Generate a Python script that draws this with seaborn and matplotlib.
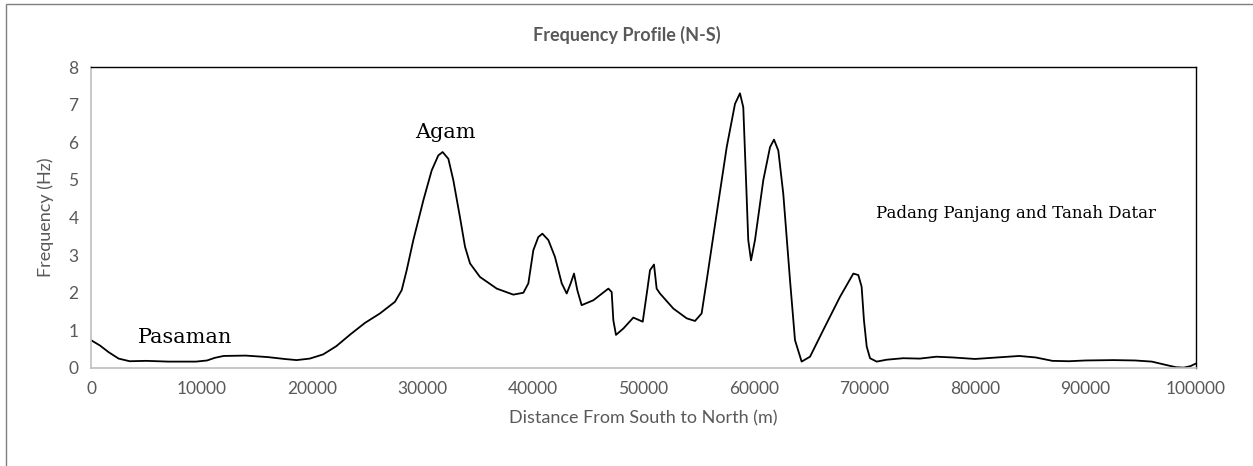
import matplotlib
matplotlib.use("Agg")
import matplotlib.pyplot as plt
import seaborn as sns
import pandas as pd
from matplotlib.patches import Rectangle

# ---- data ----
distance_m = [0, 800, 1600, 2500, 3500, 5000, 7000, 9500, 10500, 11200, 12000,
              14000, 16000, 17500, 18600, 19800, 21000, 22200, 23500, 24800, 26150,
              27510, 28120, 28570, 29170, 30080, 30830, 31430, 31820, 32340, 32790,
              33390, 33850, 34300, 35200, 36720, 38220, 39130, 39580, 40030, 40480,
              40850, 41390, 41990, 42600, 43050, 43410, 43710, 44010, 44400, 45460,
              46820, 47120, 47270, 47510, 48180, 49080, 49930, 50340, 50590, 50950,
              51190, 51490, 52700, 53910, 54660, 55260, 55720, 56620, 57530, 58280,
              58730, 59030, 59280, 59480, 59730, 60090, 60840, 61450, 61810, 62200,
              62650, 63260, 63710, 64310, 65070, 66270, 67780, 68990, 69440, 69740,
              69950, 70200, 70500, 71100, 72000, 73500, 75000, 76500, 78000, 80000,
              82000, 84000, 85500, 87000, 88500, 90000, 92500, 94500, 96000, 97300,
              98200, 98900, 99500, 100000]
frequency_hz = [0.74, 0.6, 0.42, 0.25, 0.18, 0.19, 0.17, 0.17, 0.2, 0.27, 0.32,
                0.33, 0.29, 0.24, 0.21, 0.25, 0.36, 0.58, 0.9, 1.2, 1.45,
                1.76, 2.07, 2.6, 3.4, 4.46, 5.25, 5.65, 5.74, 5.56, 4.99,
                4.01, 3.22, 2.78, 2.42, 2.11, 1.95, 2.0, 2.25, 3.13, 3.48,
                3.57, 3.4, 2.95, 2.25, 1.98, 2.25, 2.51, 2.07, 1.67, 1.8,
                2.11, 2.02, 1.27, 0.88, 1.05, 1.34, 1.23, 2.07, 2.6, 2.75,
                2.11, 1.98, 1.58, 1.32, 1.25, 1.45, 2.33, 4.1, 5.87, 7.02,
                7.3, 6.93, 4.99, 3.4, 2.86, 3.4, 4.99, 5.87, 6.07, 5.78,
                4.63, 2.33, 0.74, 0.17, 0.3, 1.01, 1.89, 2.51, 2.47, 2.16,
                1.27, 0.57, 0.26, 0.17, 0.22, 0.26, 0.25, 0.3, 0.28, 0.24,
                0.28, 0.32, 0.28, 0.19, 0.18, 0.2, 0.21, 0.2, 0.17, 0.08,
                0.02, 0.01, 0.05, 0.12]

x_ticks = [0, 10000, 20000, 30000, 40000, 50000, 60000, 70000, 80000, 90000, 100000]
y_ticks = [0, 1, 2, 3, 4, 5, 6, 7, 8]

region_labels = ["Pasaman", "Agam", "Padang Panjang and Tanah Datar"]
region_x = [8500, 32100, 83700]
region_y = [0.82, 6.26, 4.1]

df = pd.DataFrame({"Distance": distance_m, "Frequency": frequency_hz})

sns.set_theme(style="white")
plt.rcParams["font.family"] = ["Lato", "DejaVu Sans"]

fig = plt.figure(figsize=(12.53, 4.66), dpi=100)
ax = fig.add_axes([91/1253, 1 - 368/466, (1196 - 91)/1253, (368 - 67)/466])

sns.lineplot(data=df, x="Distance", y="Frequency", ax=ax, color="black",
             linewidth=1.3, sort=False)
for line in ax.get_lines():
    line.set_solid_joinstyle("round")

ax.set_xlim(0, 100000)
ax.set_ylim(0, 8)
ax.set_xticks(x_ticks)
ax.set_xticklabels([str(t) for t in x_ticks])
ax.set_yticks(y_ticks)
ax.set_yticklabels([str(t) for t in y_ticks])
ax.tick_params(axis="both", length=0, labelsize=12.5, colors="#595959", pad=9)

for side in ["top", "right"]:
    ax.spines[side].set_color("black")
    ax.spines[side].set_linewidth(1.0)
for side in ["left", "bottom"]:
    ax.spines[side].set_color("#bfbfbf")
    ax.spines[side].set_linewidth(1.2)

ax.set_xlabel("Distance From South to North (m)", fontsize=13, color="#595959", labelpad=10)
ax.set_ylabel("Frequency (Hz)", fontsize=13, color="#595959", labelpad=10)

fig.text(0.5, 1 - 35/466, "Frequency Profile (N-S)", ha="center", va="center",
         fontsize=13, fontweight="bold", color="#595959")

sizes = [15, 15, 12]
for lab, xv, yv, s in zip(region_labels, region_x, region_y, sizes):
    ax.text(xv, yv, lab, ha="center", va="center", fontsize=s,
            family="DejaVu Serif", color="black")

fig.patches.append(Rectangle((6/1253, -0.1), 1.2, (466 - 4)/466 + 0.1,
                             transform=fig.transFigure, fill=False,
                             edgecolor="#7f7f7f", linewidth=1.0))

fig.savefig("out.png", dpi=100, facecolor="white")
